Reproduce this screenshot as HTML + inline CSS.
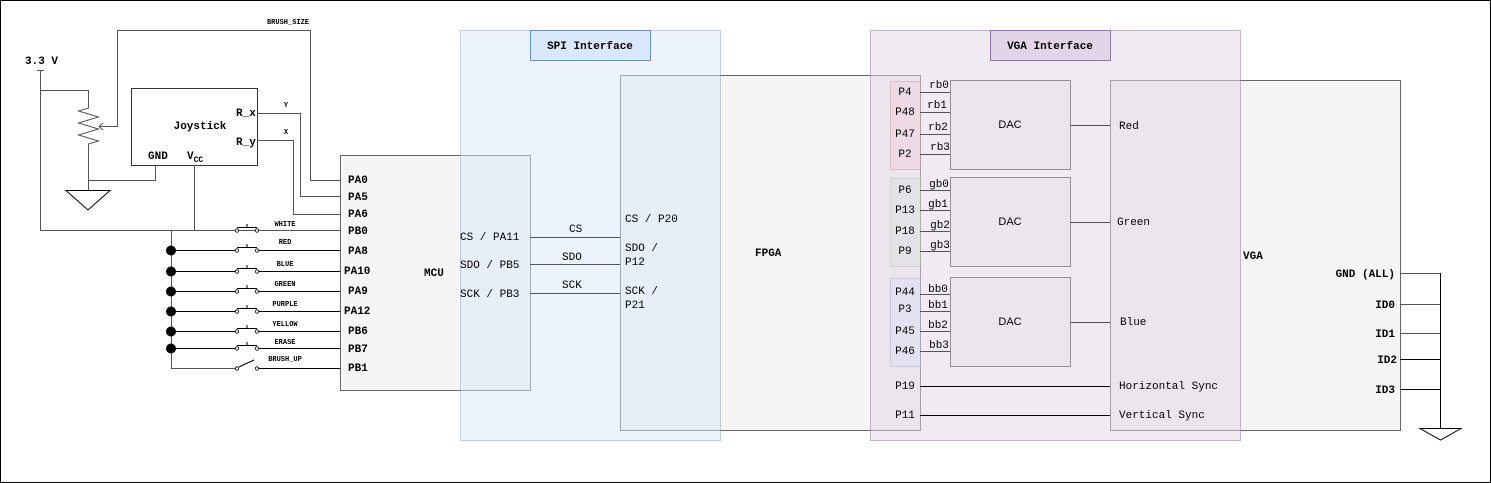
<!DOCTYPE html>
<html><head><meta charset="utf-8"><style>
body{margin:0;background:#fff}
svg{display:block}
text{font-family:"Liberation Mono",monospace;font-size:11px;fill:#000}
.b{font-weight:bold}
.g{fill:#333}
.s{font-size:7px;font-weight:bold}
.l{stroke:#000;stroke-width:1;fill:none}
.lg{stroke:#555;stroke-width:1;fill:none}
</style></head><body>
<svg width="1491" height="483" viewBox="0 0 1491 483" xmlns="http://www.w3.org/2000/svg">
<rect x="0.5" y="0.5" width="1490" height="482" fill="#fff" stroke="#000"/>
<rect x="340.5" y="155.5" width="190" height="235" fill="#f5f5f5" stroke="#666"/>
<rect x="620.5" y="75.5" width="300" height="355" fill="#f5f5f5" stroke="#666"/>
<rect x="1110.5" y="80.5" width="290" height="350" fill="#f5f5f5" stroke="#666"/>
<rect x="890.5" y="81.5" width="30" height="88" fill="#f8cecc" stroke="#b85450" opacity="0.5"/>
<rect x="890.5" y="178.5" width="30" height="88" fill="#d5e8d4" stroke="#82b366" opacity="0.5"/>
<rect x="890.5" y="278.5" width="30" height="88" fill="#dae8fc" stroke="#6c8ebf" opacity="0.5"/>
<rect x="950.5" y="80.5" width="120" height="89" fill="#f5f5f5" stroke="#444"/>
<rect x="950.5" y="177.5" width="120" height="89" fill="#f5f5f5" stroke="#444"/>
<rect x="950.5" y="277.5" width="120" height="89" fill="#f5f5f5" stroke="#444"/>
<rect x="460.5" y="30.5" width="260" height="410" fill="#dae8fc" fill-opacity="0.5" stroke="#6c8ebf" stroke-opacity="0.4"/>
<rect x="530.5" y="30.5" width="120" height="30" fill="#dae8fc" stroke="#6c8ebf"/>
<text x="590" y="49" text-anchor="middle" class="b">SPI Interface</text>
<rect x="870.5" y="30.5" width="370" height="410" fill="#e1d5e7" fill-opacity="0.5" stroke="#9673a6" stroke-opacity="0.5"/>
<rect x="990.5" y="30.5" width="120" height="30" fill="#e1d5e7" stroke="#9673a6"/>
<text x="1050" y="49" text-anchor="middle" class="b">VGA Interface</text>

<text x="25" y="64" class="b">3.3 V</text>
<path class="lg" d="M37 70.5H44M40.5 70V230.5H340M40 90.5H88.5V108 l-10 3 20 6 -20 6 20 6 -20 6 20 6 -10 3V180.5H155.5V165M88.5 180V190"/>
<path class="l" d="M66 190.5H110L88 210Z"/>
<path class="lg" d="M100 126.5H117.5V30.5H310.5V180.5H340M103 123 l-4 3.5 4 3.5"/>
<text x="288" y="24" text-anchor="middle" class="s">BRUSH_SIZE</text>
<rect x="131.5" y="88.5" width="126" height="77" fill="#fff" stroke="#333"/>
<text x="200" y="129" text-anchor="middle" class="b">Joystick</text>
<text x="236" y="116" class="b">R_x</text>
<text x="236" y="145" class="b">R_y</text>
<text x="148" y="159" class="b">GND</text>
<text x="187" y="159" class="b">V<tspan font-size="8" dy="3">CC</tspan></text>
<path class="lg" d="M257 113.5H300.5V196.5H340M257 140.5H293.5V214.5H340M194.5 165V230"/>
<text x="286" y="107" text-anchor="middle" class="s">Y</text>
<text x="286" y="134" text-anchor="middle" class="s">X</text>
<path class="lg" d="M171.5 230V368.5H236"/>
<g class="l">
<path d="M171 250.5H236M258 250.5H340"/>
<path d="M171 271.5H236M258 271.5H340"/>
<path d="M171 291.5H236M258 291.5H340"/>
<path d="M171 311.5H236M258 311.5H340"/>
<path d="M171 331.5H236M258 331.5H340"/>
<path d="M171 348.5H236M258 348.5H340"/>
<path d="M258 368.5H340M239 367 L254 360"/>
</g>
<g fill="#000">
<circle cx="171" cy="250.5" r="5"/><circle cx="171" cy="271.5" r="5"/><circle cx="171" cy="291.5" r="5"/><circle cx="171" cy="311.5" r="5"/><circle cx="171" cy="331.5" r="5"/><circle cx="171" cy="348.5" r="5"/>
</g>
<g class="l" fill="#fff">
<path d="M237 227.5H257M247 227.5V224M237 247.5H257M247 247.5V244M237 268.5H257M247 268.5V265M237 288.5H257M247 288.5V285M237 308.5H257M247 308.5V305M237 328.5H257M247 328.5V325M237 345.5H257M247 345.5V342"/>
</g>
<g fill="#fff" stroke="#000" stroke-width="0.8">
<circle cx="237" cy="230.5" r="1.7"/><circle cx="257" cy="230.5" r="1.7"/>
<circle cx="237" cy="250.5" r="1.7"/><circle cx="257" cy="250.5" r="1.7"/>
<circle cx="237" cy="271.5" r="1.7"/><circle cx="257" cy="271.5" r="1.7"/>
<circle cx="237" cy="291.5" r="1.7"/><circle cx="257" cy="291.5" r="1.7"/>
<circle cx="237" cy="311.5" r="1.7"/><circle cx="257" cy="311.5" r="1.7"/>
<circle cx="237" cy="331.5" r="1.7"/><circle cx="257" cy="331.5" r="1.7"/>
<circle cx="237" cy="348.5" r="1.7"/><circle cx="257" cy="348.5" r="1.7"/>
<circle cx="237" cy="368.5" r="1.7"/><circle cx="257" cy="368.5" r="1.7"/>
</g>
<g text-anchor="middle">
<text x="285" y="226" class="s">WHITE</text>
<text x="285" y="244" class="s">RED</text>
<text x="285" y="266" class="s">BLUE</text>
<text x="285" y="286" class="s">GREEN</text>
<text x="285" y="306" class="s">PURPLE</text>
<text x="285" y="326" class="s">YELLOW</text>
<text x="285" y="344" class="s">ERASE</text>
<text x="285" y="361" class="s">BRUSH_UP</text>
</g>
<g class="b">
<text x="348" y="183">PA0</text>
<text x="348" y="200">PA5</text>
<text x="348" y="217">PA6</text>
<text x="348" y="234">PB0</text>
<text x="348" y="254">PA8</text>
<text x="344" y="274">PA10</text>
<text x="348" y="294">PA9</text>
<text x="344" y="314">PA12</text>
<text x="348" y="334">PB6</text>
<text x="348" y="352">PB7</text>
<text x="348" y="371">PB1</text>
<text x="424" y="276">MCU</text>
<text x="755" y="256">FPGA</text>
<text x="1243" y="259">VGA</text>
</g>
<g class="g">
<text x="460" y="240">CS / PA11</text>
<text x="460" y="268">SDO / PB5</text>
<text x="460" y="297">SCK / PB3</text>
<text x="625" y="222">CS / P20</text>
<text x="625" y="251">SDO /</text><text x="625" y="265">P12</text>
<text x="625" y="294">SCK /</text><text x="625" y="308">P21</text>
<text x="569" y="232" font-size="9">CS</text>
<text x="562" y="260" font-size="9">SDO</text>
<text x="562" y="288" font-size="9">SCK</text>
</g>
<path class="lg" d="M530 237.5H620M530 264.5H620M530 293.5H620"/>
<g class="g" text-anchor="middle">
<text x="905" y="95">P4</text><text x="905" y="115">P48</text><text x="905" y="137">P47</text><text x="905" y="157">P2</text>
<text x="905" y="193">P6</text><text x="905" y="213">P13</text><text x="905" y="234">P18</text><text x="905" y="254">P9</text>
<text x="905" y="295">P44</text><text x="905" y="312">P3</text><text x="905" y="334">P45</text><text x="905" y="354">P46</text>
<text x="905" y="389">P19</text><text x="905" y="418">P11</text>
<text x="939" y="88" font-size="10">rb0</text><text x="937" y="108" font-size="10">rb1</text><text x="938" y="130" font-size="10">rb2</text><text x="940" y="150" font-size="10">rb3</text>
<text x="939" y="187" font-size="10">gb0</text><text x="938" y="207" font-size="10">gb1</text><text x="940" y="228" font-size="10">gb2</text><text x="940" y="248" font-size="10">gb3</text>
<text x="938" y="292" font-size="10">bb0</text><text x="938" y="308" font-size="10">bb1</text><text x="938" y="328" font-size="10">bb2</text><text x="939" y="348" font-size="10">bb3</text>
<text x="1010" y="128" style="font-family:'Liberation Sans',sans-serif">DAC</text>
<text x="1010" y="225" style="font-family:'Liberation Sans',sans-serif">DAC</text>
<text x="1010" y="325" style="font-family:'Liberation Sans',sans-serif">DAC</text>
</g>
<g class="g">
<text x="1119" y="129">Red</text>
<text x="1117" y="225">Green</text>
<text x="1120" y="325">Blue</text>
<text x="1119" y="389">Horizontal Sync</text>
<text x="1119" y="418">Vertical Sync</text>
</g>
<path class="lg" d="M920 92.5H950M920 112.5H950M920 134.5H950M920 154.5H950M920 190.5H950M920 210.5H950M920 231.5H950M920 251.5H950M920 294.5H950M920 311.5H950M920 331.5H950M920 351.5H950M1070 125.5H1110M1070 222.5H1110M1070 322.5H1110"/>
<path class="l" d="M920 386.5H1110M920 415.5H1110"/>
<g class="b" text-anchor="end">
<text x="1395" y="277">GND (ALL)</text>
<text x="1395" y="308">ID0</text>
<text x="1395" y="337">ID1</text>
<text x="1397" y="363">ID2</text>
<text x="1395" y="393">ID3</text>
</g>
<path class="lg" d="M1400 273.5H1440M1400 304.5H1440M1400 333.5H1440"/>
<path class="l" d="M1400 359.5H1440M1400 389.5H1440M1440.5 273V428"/>
<path class="l" d="M1420 428.5H1461L1440.5 440Z" fill="#fff"/>
</svg>
</body></html>
